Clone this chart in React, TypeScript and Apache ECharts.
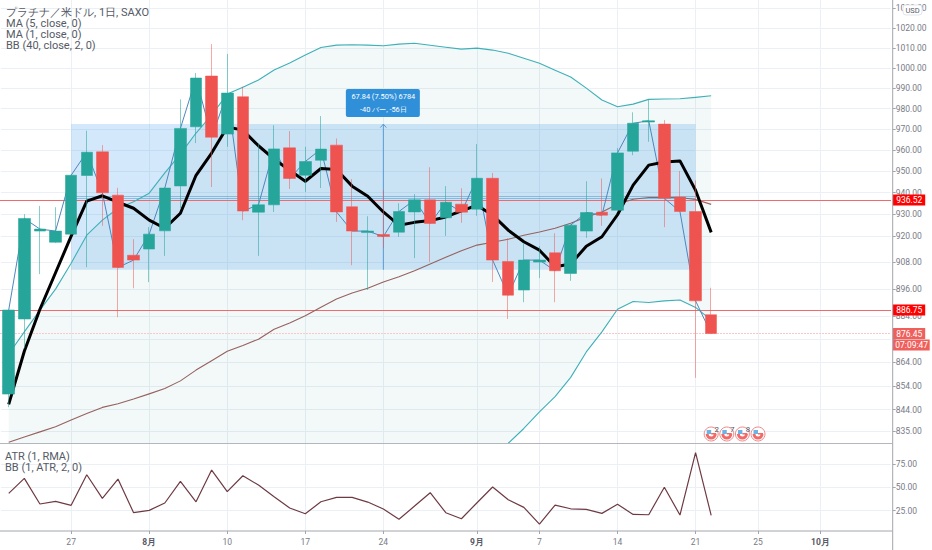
import React, { useEffect, useRef } from "react";
import * as echarts from "echarts";

const opens = [850.5,882.8,922.2,917.1,920.8,948,959.2,938.8,911.2,914,922.3,943.1,971.2,996,967.7,985.8,930.9,934.3,961.1,948.1,955.2,962.4,933.4,921.5,920.6,921.7,931,936.6,928.3,934.6,932.3,946.7,908.4,895.6,908.1,912.3,903,922.2,930.9,931.8,959.5,973.5,972.5,937.9,931.2,884.7];
const closes = [886.75,928,923.1,922.2,948.1,959,939.9,905.7,909,920.8,942.1,970.4,995,966.2,987.6,931.4,934.3,960.6,946.6,954.6,960.5,931,922.2,922.2,919.7,931.2,936.6,925.7,935.5,930.9,946.7,909,893.3,909,909,904.2,924.9,930.7,929.5,958.7,972.9,974.1,937.3,931.2,890.8,876.45];
const lows = [845,870.1,902.7,916.7,920.8,905.8,924.6,883.6,896.4,899.1,910.9,932.7,963.4,942.6,961.6,927.2,910.9,931,941.7,940.3,942.1,926.4,906.7,895.6,914.4,919.5,909.9,908.2,920,926,929.2,899.2,882.8,890.2,900.9,890.2,899.7,919.1,924.6,931.5,957.6,964,924,931.1,857.4,876.3];
const highs = [886.75,930,933.8,933.2,948.3,969.3,962.4,942.2,918.5,924,942.3,984.5,997.5,1011.9,1007,990.7,963.4,971.9,969.1,961.6,976.4,965.6,946.3,929,941.1,935,939.3,951.9,943,942,962.9,949.2,919,916.7,915.3,921.2,925.2,945.3,946.6,961,978.2,984.5,974.5,950.1,945.7,896.6];
const ma5 = [846.2,868.8,887.1,903.3,919.9,936,938.5,935.5,932.7,927.2,923.5,930.4,948.1,958.6,971.1,969.6,962.1,955.7,950.5,945.3,951.3,950.8,943,938.3,931,924.9,926.2,927,928.7,931.5,934.1,929.5,922.6,917.3,913.5,906,907.2,915.3,919.6,929.7,943.5,952.9,954.4,954.9,941.1,921.6];
const bbUpper = [867.6,877.2,886.7,896,907.6,920.3,927.2,932.7,935.7,939.7,949.2,958.1,968.2,976.9,987.1,990.5,994,999,1002.4,1006.4,1010.2,1011.4,1011.6,1011.4,1011.1,1011.9,1012.3,1011.3,1010.3,1009.4,1009.9,1008.9,1007.3,1004.8,1002.3,998.9,995.5,990,984.2,980.9,982.2,984.5,984.7,984.8,985.5,986.3];
const bbMiddle = [830.4,832.6,834.7,836.8,839.6,842.3,844.9,846.4,848.4,850.6,852.9,856.1,860.7,864.7,868.8,871.3,874,878.3,881.1,884.2,888,891.6,894.3,896.4,899.2,901.5,904.2,907.2,910.3,913.2,915.8,917.1,918.5,920.3,921.8,923.5,925.8,928.7,931,934.6,936.9,937.7,937.7,937.7,936.8,934.5];
const bbLower = [793,788,783,777,772,764,763,760,761,762,757,754,753,752,750,752,754,758,760,762,766,772,777,781,787,791,796,803,810,817,822,826,830,836.1,843,849.4,857.6,868.5,877.2,887.1,890.5,890.1,890.8,891.2,887.9,882.3];
const atr = [43.6,59.7,32.2,35.1,30.8,63.6,38.3,59,22.9,25.4,33.3,56.5,34.6,68.6,45.4,62.5,52.5,40,27.9,21.8,34.6,39.4,39.4,34.3,26.8,15.8,30,44.3,22.9,16.4,33.6,50.4,36.8,28.6,10.7,31.1,27.1,26.5,22.2,31.9,21.1,20.7,50.1,20.4,87.2,20.1];

const timeIndexes = [4, 9, 14, 19, 24, 30, 34, 39, 44, 48, 52];
const timeLabels = ["27", "8月", "10", "17", "24", "9月", "7", "14", "21", "25", "10月"];
const barSlots = 57;
const priceTicks = [1030,1020,1010,1000,990,980,970,960,950,940,930,920,908,896,884,874,864,854,844,835];
const hiddenPriceLabels = [874];
const atrTicks = [25, 50, 75];
const mainLegend = ["プラチナ／米ドル, 1日, SAXO", "MA (5, close, 0)", "MA (1, close, 0)", "BB (40, close, 2, 0)"];
const atrLegend = ["ATR (1, RMA)", "BB (1, ATR, 2, 0)"];
const rangeTop = 972.5;
const rangeBottom = 904.66;
const rangeStart = 4;
const rangeEnd = 44;
const rangeMid = 24;
const rangeLevels = [938.2, 937.3];
const rangeText = ["67.84 (7.50%) 6784", "-40 バー, -56日"];
const redLines = [936.52, 886.75];
const lastPrice = 876.45;
const countdown = "07:09:47";
const flagIndexes = [45, 46, 47, 48];
const flagCounts = ["2", "7", "8", ""];

const FONT = "Roboto";
const TEAL = "#26a69a";
const RED = "#ef5350";
const GRID = "#eaf0f5";
const AXIS = "#a3a6af";
const TEXT = "#787b86";
const categories = Array.from({ length: barSlots }, (_, i) => {
  const k = timeIndexes.indexOf(i);
  return k >= 0 ? timeLabels[k] : "";
});
const ln = (v: number) => Math.log(v);
const logs = (a: number[]) => a.map(ln);
const snap = (v: number) => Math.round(v - 0.5) + 0.5;
const PRICE_MIN = ln(830.1);
const PRICE_MAX = ln(1034.3);

function overlay(z: number, clip: boolean, draw: (api: any, cs: any) => any[]) {
  return {
    type: "custom", xAxisIndex: 0, yAxisIndex: 0, z, clip, silent: true,
    data: [[0, ln(900)]],
    renderItem: (p: any, api: any) => ({ type: "group", children: draw(api, p.coordSys) }),
  };
}
function line(name: string, data: number[], color: string, width: number, z: number) {
  return {
    type: "line", name, data: logs(data), xAxisIndex: 0, yAxisIndex: 0, z, silent: true,
    symbol: "none", lineStyle: { color, width, join: "round" },
  };
}
const txt = (x: number, y: number, text: string, fill: string, size: number, align = "left") => ({
  type: "text", x, y, silent: true,
  style: { text, fill, fontSize: size, fontFamily: FONT, align, verticalAlign: "middle" },
});

export default function App() {
  const ref = useRef<HTMLDivElement>(null);
  useEffect(() => {
    document.body.style.margin = "0";
    const chart = echarts.init(ref.current!, undefined, { renderer: "svg" });
    const bandFill = overlay(1, true, (api) => {
      const pts: number[][] = [];
      bbUpper.forEach((v, i) => pts.push(api.coord([i, ln(v)])));
      for (let i = bbLower.length - 1; i >= 0; i--) pts.push(api.coord([i, ln(bbLower[i])]));
      return [{ type: "polygon", shape: { points: pts }, style: { fill: "rgba(38,150,140,0.055)" } }];
    });
    const rangeBox = overlay(2, true, (api) => {
      const a = api.coord([rangeStart, ln(rangeTop)]);
      const b = api.coord([rangeEnd, ln(rangeBottom)]);
      const out: any[] = [{ type: "rect", shape: { x: a[0], y: a[1], width: b[0] - a[0], height: b[1] - a[1] }, style: { fill: "rgba(33,140,230,0.2)" } }];
      rangeLevels.forEach((v) => {
        const y = snap(api.coord([0, ln(v)])[1]);
        out.push({ type: "line", shape: { x1: a[0], y1: y, x2: b[0], y2: y }, style: { stroke: "rgba(30,120,180,0.38)", lineWidth: 1 } });
      });
      const m = api.coord([rangeMid, ln(rangeTop)]);
      const n = api.coord([rangeMid, ln(rangeBottom)]);
      const blue = "#5b9bd5";
      out.push({ type: "line", shape: { x1: m[0], y1: m[1], x2: n[0], y2: n[1] }, style: { stroke: blue, lineWidth: 1 } });
      out.push({ type: "polyline", shape: { points: [[m[0] - 3, m[1] + 3.5], [m[0], m[1]], [m[0] + 3, m[1] + 3.5]] }, style: { stroke: blue, lineWidth: 1, fill: "none" } });
      return out;
    });
    const rangeTag = overlay(20, false, (api) => {
      const m = api.coord([rangeMid, ln(rangeTop)]);
      return [
        { type: "rect", shape: { x: m[0] - 37.5, y: m[1] - 35, width: 74, height: 28, r: 2 }, style: { fill: "#2f8fd9" } },
        txt(m[0], m[1] - 27.5, rangeText[0], "#ffffff", 7.4, "center"),
        txt(m[0], m[1] - 15, rangeText[1], "#ffffff", 7.4, "center"),
      ];
    });
    const priceLines = overlay(3, true, (api, cs) => {
      const right = cs.x + cs.width + 2;
      const out: any[] = redLines.map((v) => {
        const y = snap(api.coord([0, ln(v)])[1]);
        return { type: "line", shape: { x1: 0, y1: y, x2: right, y2: y }, style: { stroke: "#ef6a6c", lineWidth: 1 } };
      });
      const y = snap(api.coord([0, ln(lastPrice)])[1]);
      out.push({ type: "line", shape: { x1: 0, y1: y, x2: right, y2: y }, style: { stroke: "#f9c9c9", lineWidth: 1, lineDash: [2, 1] } });
      return out;
    });
    const priceTags = overlay(30, false, (api, cs) => {
      const x = cs.x + cs.width + 2;
      const out: any[] = [];
      redLines.forEach((v) => {
        const y = api.coord([0, ln(v)])[1];
        out.push({ type: "rect", shape: { x, y: y - 5.5, width: 32.5, height: 11 }, style: { fill: "#ff0000" } });
        out.push(txt(x + 16.5, y, v.toFixed(2), "#ffffff", 8.5, "center"));
      });
      const y = api.coord([0, ln(lastPrice)])[1];
      out.push({ type: "rect", shape: { x, y: y - 5.5, width: 32.5, height: 11 }, style: { fill: "#ef5f5c" } });
      out.push(txt(x + 16.5, y, lastPrice.toFixed(2), "#ffffff", 8.5, "center"));
      out.push({ type: "rect", shape: { x, y: y + 6, width: 37, height: 11 }, style: { fill: "#ef5f5c" } });
      out.push(txt(x + 19, y + 11.5, countdown, "#ffffff", 8.5, "center"));
      return out;
    });
    const flags = overlay(15, false, (api, cs) => {
      const y = cs.y + cs.height - 9;
      const out: any[] = [];
      flagIndexes.forEach((idx, k) => {
        const x = api.coord([idx, ln(900)])[0];
        out.push({ type: "circle", shape: { cx: x, cy: y, r: 7 }, style: { fill: "#ffffff", stroke: "#ef8a8a", lineWidth: 1 } });
        out.push({ type: "sector", shape: { cx: x, cy: y, r0: 2.5, r: 5.5, startAngle: 0, endAngle: Math.PI }, style: { fill: "#ef6a68" } });
        out.push({ type: "rect", shape: { x: x - 4.5, y: y - 4, width: 4.5, height: 4 }, style: { fill: "#6db3e4" } });
        out.push({ type: "rect", shape: { x: x, y: y - 1, width: 5, height: 1.5 }, style: { fill: "#ef6a68" } });
        if (flagCounts[k]) out.push(txt(x + 5.5, y - 5, flagCounts[k], "#555a66", 8, "center"));
      });
      return out;
    });
    chart.setOption({
      animation: false,
      backgroundColor: "#ffffff",
      grid: [
        { left: 0.9, top: 0, width: 889.8, height: 443 },
        { left: 0.9, top: 444, width: 889.8, height: 87 },
      ],
      xAxis: [0, 1].map((gridIndex) => ({
        type: "category", gridIndex, data: categories, boundaryGap: true,
        axisLine: { show: false },
        axisTick: gridIndex === 1
          ? { show: true, alignWithLabel: true, length: 3, lineStyle: { color: AXIS }, interval: (_: number, v: string) => v !== "" }
          : { show: false },
        axisLabel: gridIndex === 1
          ? {
              show: true, interval: (_: number, v: string) => v !== "", margin: 6, color: TEXT, fontSize: 8.5, fontFamily: FONT,
              formatter: (v: string) => (v.includes("月") ? `{b|${v}}` : v),
              rich: { b: { fontWeight: "bold", color: "#555a66", fontSize: 8.5, fontFamily: FONT } },
            }
          : { show: false },
        splitLine: { show: true, alignWithLabel: true, interval: (_: number, v: string) => v !== "", lineStyle: { color: GRID, width: 1 } },
      })),
      yAxis: [
        {
          type: "value", gridIndex: 0, position: "right", offset: 2, min: PRICE_MIN, max: PRICE_MAX,
          axisLine: { show: false },
          axisTick: { show: true, length: 3, lineStyle: { color: AXIS }, customValues: logs(priceTicks) },
          axisLabel: {
            color: TEXT, fontSize: 8.5, fontFamily: FONT, margin: 3,
            customValues: logs(priceTicks.filter((t) => !hiddenPriceLabels.includes(t))),
            formatter: (v: number) => Math.exp(v).toFixed(2),
          },
          splitLine: { show: true, lineStyle: { color: GRID, width: 1 } },
        },
        {
          type: "value", gridIndex: 1, position: "right", offset: 2, min: 3.3, max: 96.5,
          axisLine: { show: false },
          axisTick: { show: true, length: 3, lineStyle: { color: AXIS }, customValues: atrTicks },
          axisLabel: {
            color: TEXT, fontSize: 8.5, fontFamily: FONT, margin: 3,
            customValues: atrTicks, formatter: (v: number) => v.toFixed(2),
          },
          splitLine: { show: true, lineStyle: { color: GRID, width: 1 } },
        },
      ],
      series: [
        bandFill,
        rangeBox,
        priceLines,
        line("BB upper", bbUpper, "#3fb0b8", 1.1, 4),
        line("BB lower", bbLower, "#3fb0b8", 1.1, 4),
        line("BB basis", bbMiddle, "#95625f", 1.1, 4),
        line("MA 1", closes, "#4d87bd", 1, 5),
        line("MA 5", ma5, "#000000", 3, 6),
        {
          type: "candlestick", xAxisIndex: 0, yAxisIndex: 0, z: 8, silent: true, barWidth: 12,
          data: opens.map((o, i) => [ln(o), ln(closes[i]), ln(lows[i]), ln(highs[i])]),
          itemStyle: {
            color: TEAL, color0: RED,
            borderColor: "rgba(38,166,154,0.55)", borderColor0: "rgba(239,83,80,0.5)",
            borderColorDoji: "rgba(38,166,154,0.55)", borderWidth: 1,
          },
        },
        rangeTag,
        flags,
        priceTags,
        {
          type: "line", name: "ATR", xAxisIndex: 1, yAxisIndex: 1, data: atr, symbol: "none", silent: true,
          lineStyle: { color: "#6e3a42", width: 1.2 },
        },
      ],
      graphic: [
        ...mainLegend.map((t, i) => ({ ...txt(6, 12.3 + i * 10.9, t, "#555a66", 11), z: 40 })),
        ...atrLegend.map((t, i) => ({ ...txt(5, 456 + i * 11, t, "#555a66", 11), z: 40 })),
        { type: "line", z: 35, silent: true, shape: { x1: 0, y1: 443.5, x2: 892.5, y2: 443.5 }, style: { stroke: "#b4b6bd", lineWidth: 1.2 } },
        { type: "line", z: 35, silent: true, shape: { x1: 0, y1: 531, x2: 892.5, y2: 531 }, style: { stroke: AXIS, lineWidth: 1 } },
        { type: "line", z: 35, silent: true, shape: { x1: 892.7, y1: 0, x2: 892.7, y2: 550 }, style: { stroke: AXIS, lineWidth: 1 } },
        { type: "rect", z: 41, silent: true, shape: { x: 903, y: 5, width: 19, height: 10, r: 3 }, style: { fill: "#ffffff", stroke: "#e3e5ea", lineWidth: 1 } },
        { ...txt(912.5, 10, "USD", "#555a66", 7.5, "center"), z: 42 },
      ],
    });
    return () => chart.dispose();
  }, []);
  return <div ref={ref} style={{ width: 932, height: 550 }} />;
}
